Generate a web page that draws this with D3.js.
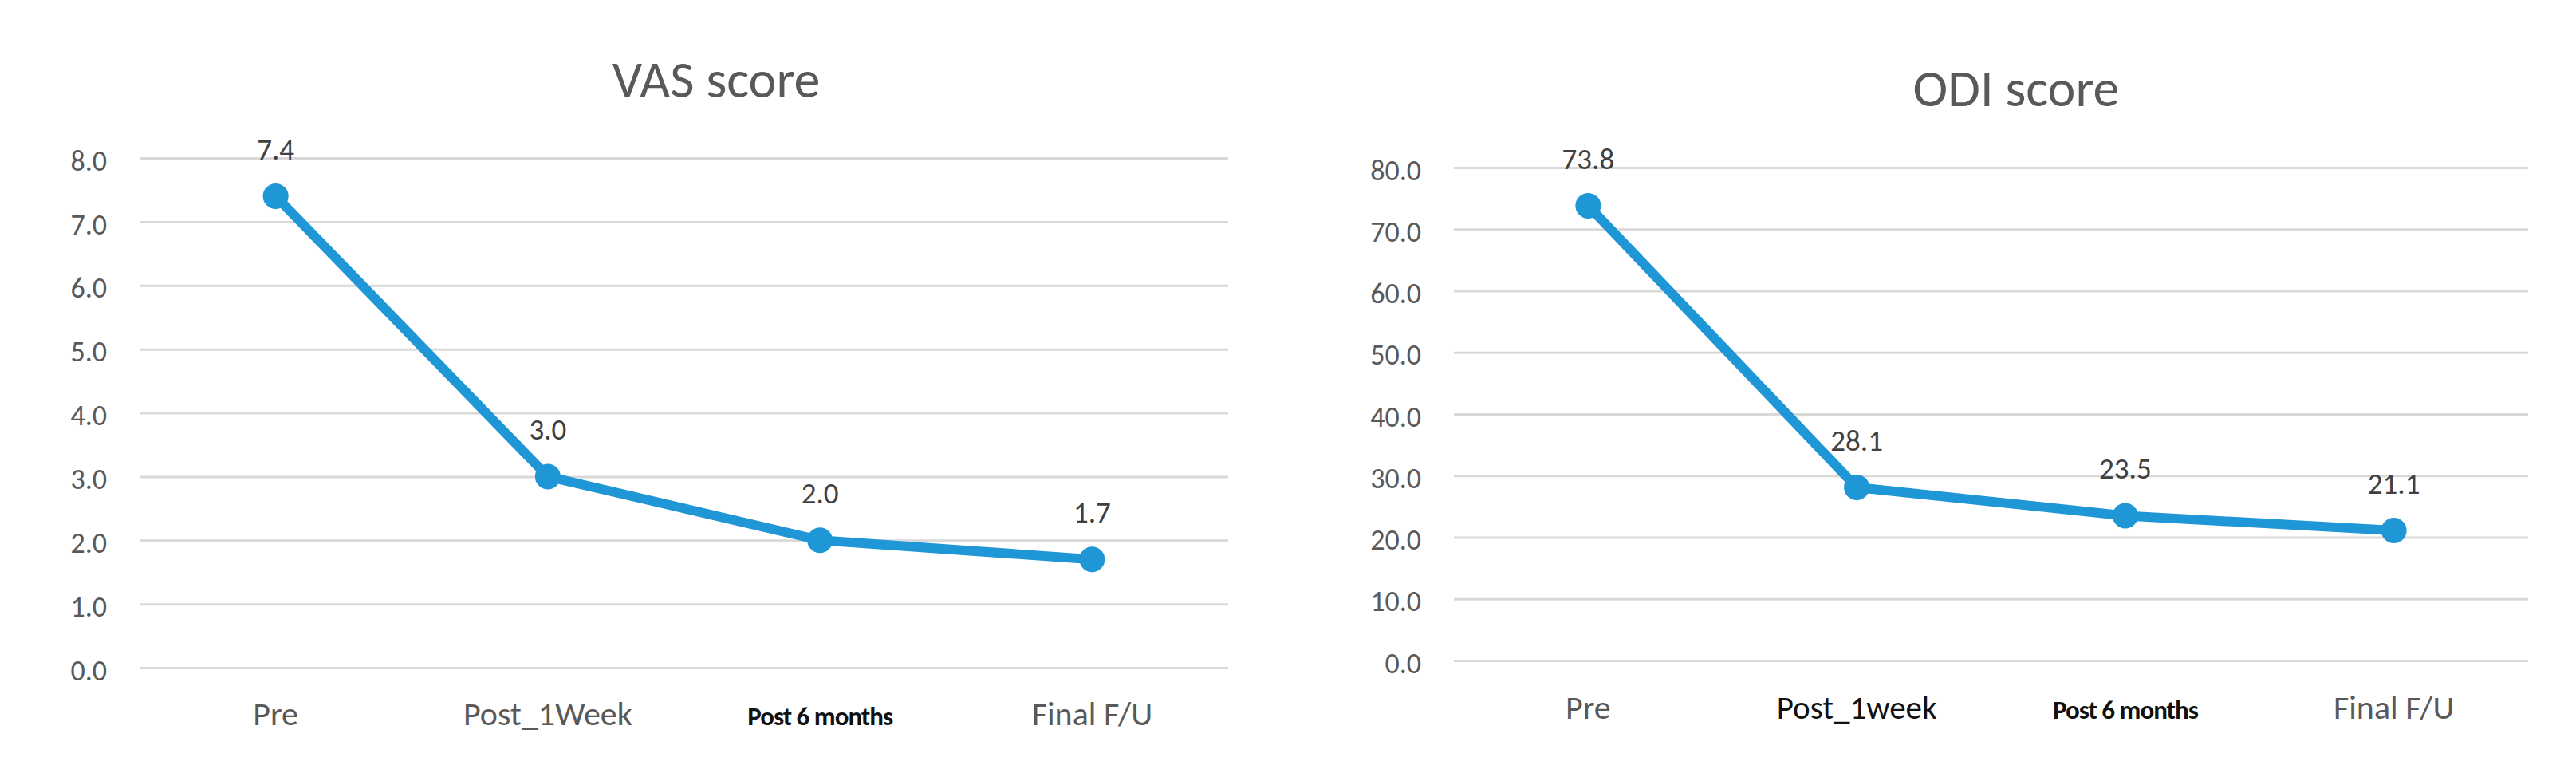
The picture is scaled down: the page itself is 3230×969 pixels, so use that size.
<!DOCTYPE html>
<html>
<head>
<meta charset="utf-8">
<script src="https://cdn.jsdelivr.net/npm/d3@7"></script>
<style>
  body { margin: 0; background: #fff; }
  svg { display: block; font-family: Calibri, Carlito, Lato, sans-serif; }
</style>
</head>
<body>
<svg id="chart" width="3230" height="969"></svg>
<script>
// data
const categoriesVas = ['Pre', 'Post_1Week', 'Post 6 months', 'Final F/U'];
const categoriesOdi = ['Pre', 'Post_1week', 'Post 6 months', 'Final F/U'];
const vasValues = [7.4, 3.0, 2.0, 1.7];
const odiValues = [73.8, 28.1, 23.5, 21.1];
const vasTicks = [0, 1, 2, 3, 4, 5, 6, 7, 8];
const odiTicks = [0, 10, 20, 30, 40, 50, 60, 70, 80];

const svg = d3.select('#chart');
const lineColor = '#1f96d6';
const fontStack = 'Calibri, Carlito, Lato, sans-serif';

// layout for each panel
const panels = [
  { title: 'VAS score', cats: categoriesVas, values: vasValues, ticks: vasTicks, max: 8,
    left: 175, right: 1540, top: 198, bottom: 837, titleX: 898, titleY: 122, labelY: 909,
    catStyle: { 'Post 6 months': 'bold' } },
  { title: 'ODI score', cats: categoriesOdi, values: odiValues, ticks: odiTicks, max: 80,
    left: 1823, right: 3170, top: 210, bottom: 828, titleX: 2528, titleY: 133, labelY: 901,
    catStyle: { 'Post 6 months': 'bold', 'Post_1week': 'dark' } }
];

panels.forEach(p => {
  const x = d3.scaleBand().domain(p.cats).range([p.left, p.right]);
  const y = d3.scaleLinear().domain([0, p.max]).range([p.bottom, p.top]);
  const g = svg.append('g');

  // gridlines + y labels
  const yAxis = g.append('g')
    .attr('transform', `translate(${p.left},0)`)
    .call(d3.axisLeft(y).tickValues(p.ticks).tickFormat(d3.format('.1f'))
      .tickSize(-(p.right - p.left)).tickPadding(41))
    .attr('font-family', fontStack);
  yAxis.select('.domain').remove();
  yAxis.selectAll('line').attr('stroke', '#d9d9d9').attr('stroke-width', 3);
  yAxis.selectAll('text')
    .attr('dy', '0.42em')
    .attr('fill', '#595959')
    .style('font-size', '36px');

  // x labels
  const xAxis = g.append('g')
    .attr('transform', `translate(0,${p.labelY})`)
    .call(d3.axisBottom(x).tickSize(0).tickPadding(0))
    .attr('font-family', fontStack);
  xAxis.select('.domain').remove();
  xAxis.selectAll('text')
    .attr('dy', 0)
    .attr('fill', d => p.catStyle[d] ? '#111' : '#595959')
    .style('font-size', d => p.catStyle[d] === 'bold' ? '33px' : (p.catStyle[d] === 'dark' ? '41px' : '42px'))
    .style('font-weight', d => p.catStyle[d] === 'bold' ? 'bold' : 'normal')
    .style('letter-spacing', d => p.catStyle[d] === 'bold' ? '-1px' : '0px');

  // title
  g.append('text')
    .attr('x', p.titleX)
    .attr('y', p.titleY)
    .attr('text-anchor', 'middle')
    .attr('fill', '#595959')
    .style('font-size', '66px')
    .text(p.title);

  const pts = p.values.map((v, i) => ({ c: p.cats[i], v: v }));
  const cx = d => x(d.c) + x.bandwidth() / 2;

  g.append('path')
    .datum(pts)
    .attr('fill', 'none')
    .attr('stroke', lineColor)
    .attr('stroke-width', 12)
    .attr('stroke-linejoin', 'round')
    .attr('d', d3.line().x(cx).y(d => y(d.v)));

  g.selectAll('circle')
    .data(pts)
    .enter()
    .append('circle')
    .attr('cx', cx)
    .attr('cy', d => y(d.v))
    .attr('r', 16)
    .attr('fill', lineColor);

  g.selectAll('.val')
    .data(pts)
    .enter()
    .append('text')
    .attr('class', 'val')
    .attr('x', cx)
    .attr('y', d => y(d.v) - 46)
    .attr('text-anchor', 'middle')
    .attr('fill', '#404040')
    .style('font-size', '37px')
    .text(d => d3.format('.1f')(d.v));
});
</script>
</body>
</html>
